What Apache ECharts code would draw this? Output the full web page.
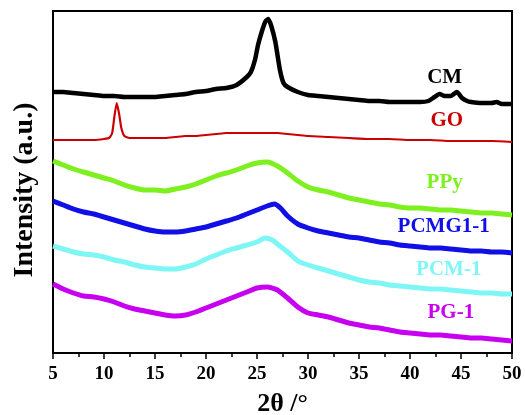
<!DOCTYPE html>
<html>
<head>
<meta charset="utf-8">
<script src="https://cdn.jsdelivr.net/npm/echarts@6/dist/echarts.min.js"></script>
<style>
html,body{margin:0;padding:0;background:#fff;overflow:hidden;}
#chart{width:525px;height:415px;}
</style>
</head>
<body>
<div id="chart"></div>
<script>
// x tick labels
const xTicks = [5, 10, 15, 20, 25, 30, 35, 40, 45, 50];

// CM
const cmTheta = [5,6,7,8,9,10,11,12,13,14,15,16,17,18,19,20,21,22,23,24,24.4,24.8,25.1,25.46,25.8,26.1,26.4,26.8,27.25,27.6,28,29,30,31,32,33,34,35,36,37,38,39,40,41,41.8,42.4,42.9,43.4,44,44.6,45.1,45.6,46,47,48,48.5,49,50];
const cmVal   = [261,261,260,259,258,257,257,256,256,256,256,257,258,259,261,262,264,265,268,276,281,293,308,321,331,334,327,311,283,270,266,261,258,257,256,255,254,253,252,252,251,251,251,251,252,256,259,257,257,261,255,252,251,250,250,251,249,249];

// GO
const goTheta = [5,6,7,8,9,10,10.5,10.8,11.0,11.25,11.5,11.7,12,12.5,13,14,15,16,17,18,19,20,21,22,23,24,25,26,27,28,29,30,32,34,36,38,40,42,44,46,48,50];
const goVal   = [213,213,213,213,213,214,215,220,235,250,238,225,217,215,215,215,215,215,216,217,217,218,219,220,220,220,220,220,220,219,218,217,216,215,214,214,213,213,212,212,212,211];

// PPy
const ppyTheta = [5,6,7,8,9,10,11,12,13,14,15,16,17,18,19,20,21,22,23,24,25,26,27,28,29,30,31,32,33,34,35,36,37,38,39,40,41,42,43,44,45,46,47,48,49,50];
const ppyVal   = [192,188,184,181,178,175,172,168,165,163,163,162,164,166,169,173,177,180,183,187,190,191,187,180,172,166,163,161,158,155,153,151,149,148,146,145,145,144,143,143,142,141,140,140,139,138];

// PCMG1-1
const pcmgTheta = [5,6,7,8,9,10,11,12,13,14,15,16,17,18,19,20,21,22,23,24,25,26,26.7,27.3,28,29,30,31,32,33,34,35,36,37,38,39,40,41,42,43,44,45,46,47,48,49,50];
const pcmgVal   = [152,148,144,141,139,136,133,130,127,124,122,121,121,122,124,126,129,132,135,139,143,147,149,145,137,129,125,122,120,118,116,115,113,111,110,108,107,106,105,105,104,103,102,102,101,101,100];

// PCM-1
const pcmTheta = [5,6,7,8,9,10,11,12,13,14,15,16,17,18,19,20,21,22,23,24,25,25.8,26.5,27,28,29,30,31,32,33,34,35,36,37,38,39,40,41,42,43,44,45,46,47,48,49,50];
const pcmVal   = [107,104,101,99,98,96,93,91,88,86,85,84,84,86,89,94,98,102,105,108,111,115,113,109,101,92,88,85,82,79,76,73,71,70,68,67,66,65,64,64,63,62,61,60,60,59,59];

// PG-1
const pgTheta = [5,6,7,8,9,10,11,12,13,14,15,16,17,18,19,20,21,22,23,24,25,26,27,28,29,30,31,32,33,34,35,36,37,38,39,40,41,42,43,44,45,46,47,48,49,50];
const pgVal   = [69,64,60,57,56,54,51,47,44,42,40,38,37,38,41,45,49,53,57,61,65,66,63,55,46,40,38,36,33,30,28,26,25,23,21,20,19,18,18,17,16,15,15,14,13,12];

// series names, colours and label anchor (theta, intensity)
const names   = ['CM', 'GO', 'PPy', 'PCMG1-1', 'PCM-1', 'PG-1'];
const colors  = ['#000000', '#cc0000', '#7ef020', '#1010e6', '#7ff6f6', '#c800f0'];
const labelTheta = [43.4, 43.6, 43.4, 43.3, 43.8, 44.0];
const labelVal   = [275, 232, 170, 126, 83, 40];

const thetas = [cmTheta, goTheta, ppyTheta, pcmgTheta, pcmTheta, pgTheta];
const vals   = [cmVal, goVal, ppyVal, pcmgVal, pcmVal, pgVal];
const widths = [4.5, 2.2, 5, 5, 5, 5];

const serif = '"Liberation Serif","Times New Roman",serif';

const series = [];
names.forEach((n, i) => {
  series.push({
    name: n,
    type: 'line',
    data: thetas[i].map((t, k) => [t, vals[i][k]]),
    symbol: 'none',
    smooth: 0.2,
    lineStyle: { color: colors[i], width: widths[i], join: 'round' },
    z: 2
  });
  series.push({
    type: 'scatter',
    data: [[labelTheta[i], labelVal[i]]],
    symbolSize: 0,
    silent: true,
    itemStyle: { opacity: 1 },
    label: {
      show: true,
      formatter: n,
      position: 'inside',
      color: colors[i],
      opacity: 1,
      fontFamily: serif,
      fontWeight: 'bold',
      fontSize: 21
    },
    z: 3
  });
});

const chart = echarts.init(document.getElementById('chart'));
chart.setOption({
  animation: false,
  backgroundColor: '#fff',
  grid: { left: 53, right: 13, top: 11, bottom: 62, containLabel: false, outerBoundsMode: 'none',
          show: true, borderColor: '#000', borderWidth: 2, backgroundColor: 'transparent' },
  xAxis: {
    type: 'value', min: 5, max: 50, interval: 5,
    name: '2θ /°', nameLocation: 'middle', nameGap: 38,
    nameTextStyle: { fontFamily: serif, fontWeight: 'bold', fontSize: 26, color: '#000' },
    axisLine: { show: true, lineStyle: { color: '#000', width: 2 } },
    axisTick: { show: true, inside: false, length: 6, lineStyle: { color: '#000', width: 1.5 } },
    minorTick: { show: true, splitNumber: 2, length: 4, lineStyle: { color: '#000', width: 1.5 } },
    splitLine: { show: false },
    axisLabel: { margin: 12, fontFamily: serif, fontWeight: 'bold', fontSize: 19, color: '#000',
      formatter: v => xTicks.includes(v) ? String(v) : '' }
  },
  yAxis: {
    type: 'value', min: 0, max: 342,
    name: 'Intensity (a.u.)', nameLocation: 'middle', nameGap: 14,
    nameTextStyle: { fontFamily: serif, fontWeight: 'bold', fontSize: 28, color: '#000', padding: [0, 16, 0, 0] },
    axisLine: { show: true, lineStyle: { color: '#000', width: 2 } },
    axisTick: { show: false },
    axisLabel: { show: false },
    splitLine: { show: false }
  },
  series: series
});
</script>
</body>
</html>
